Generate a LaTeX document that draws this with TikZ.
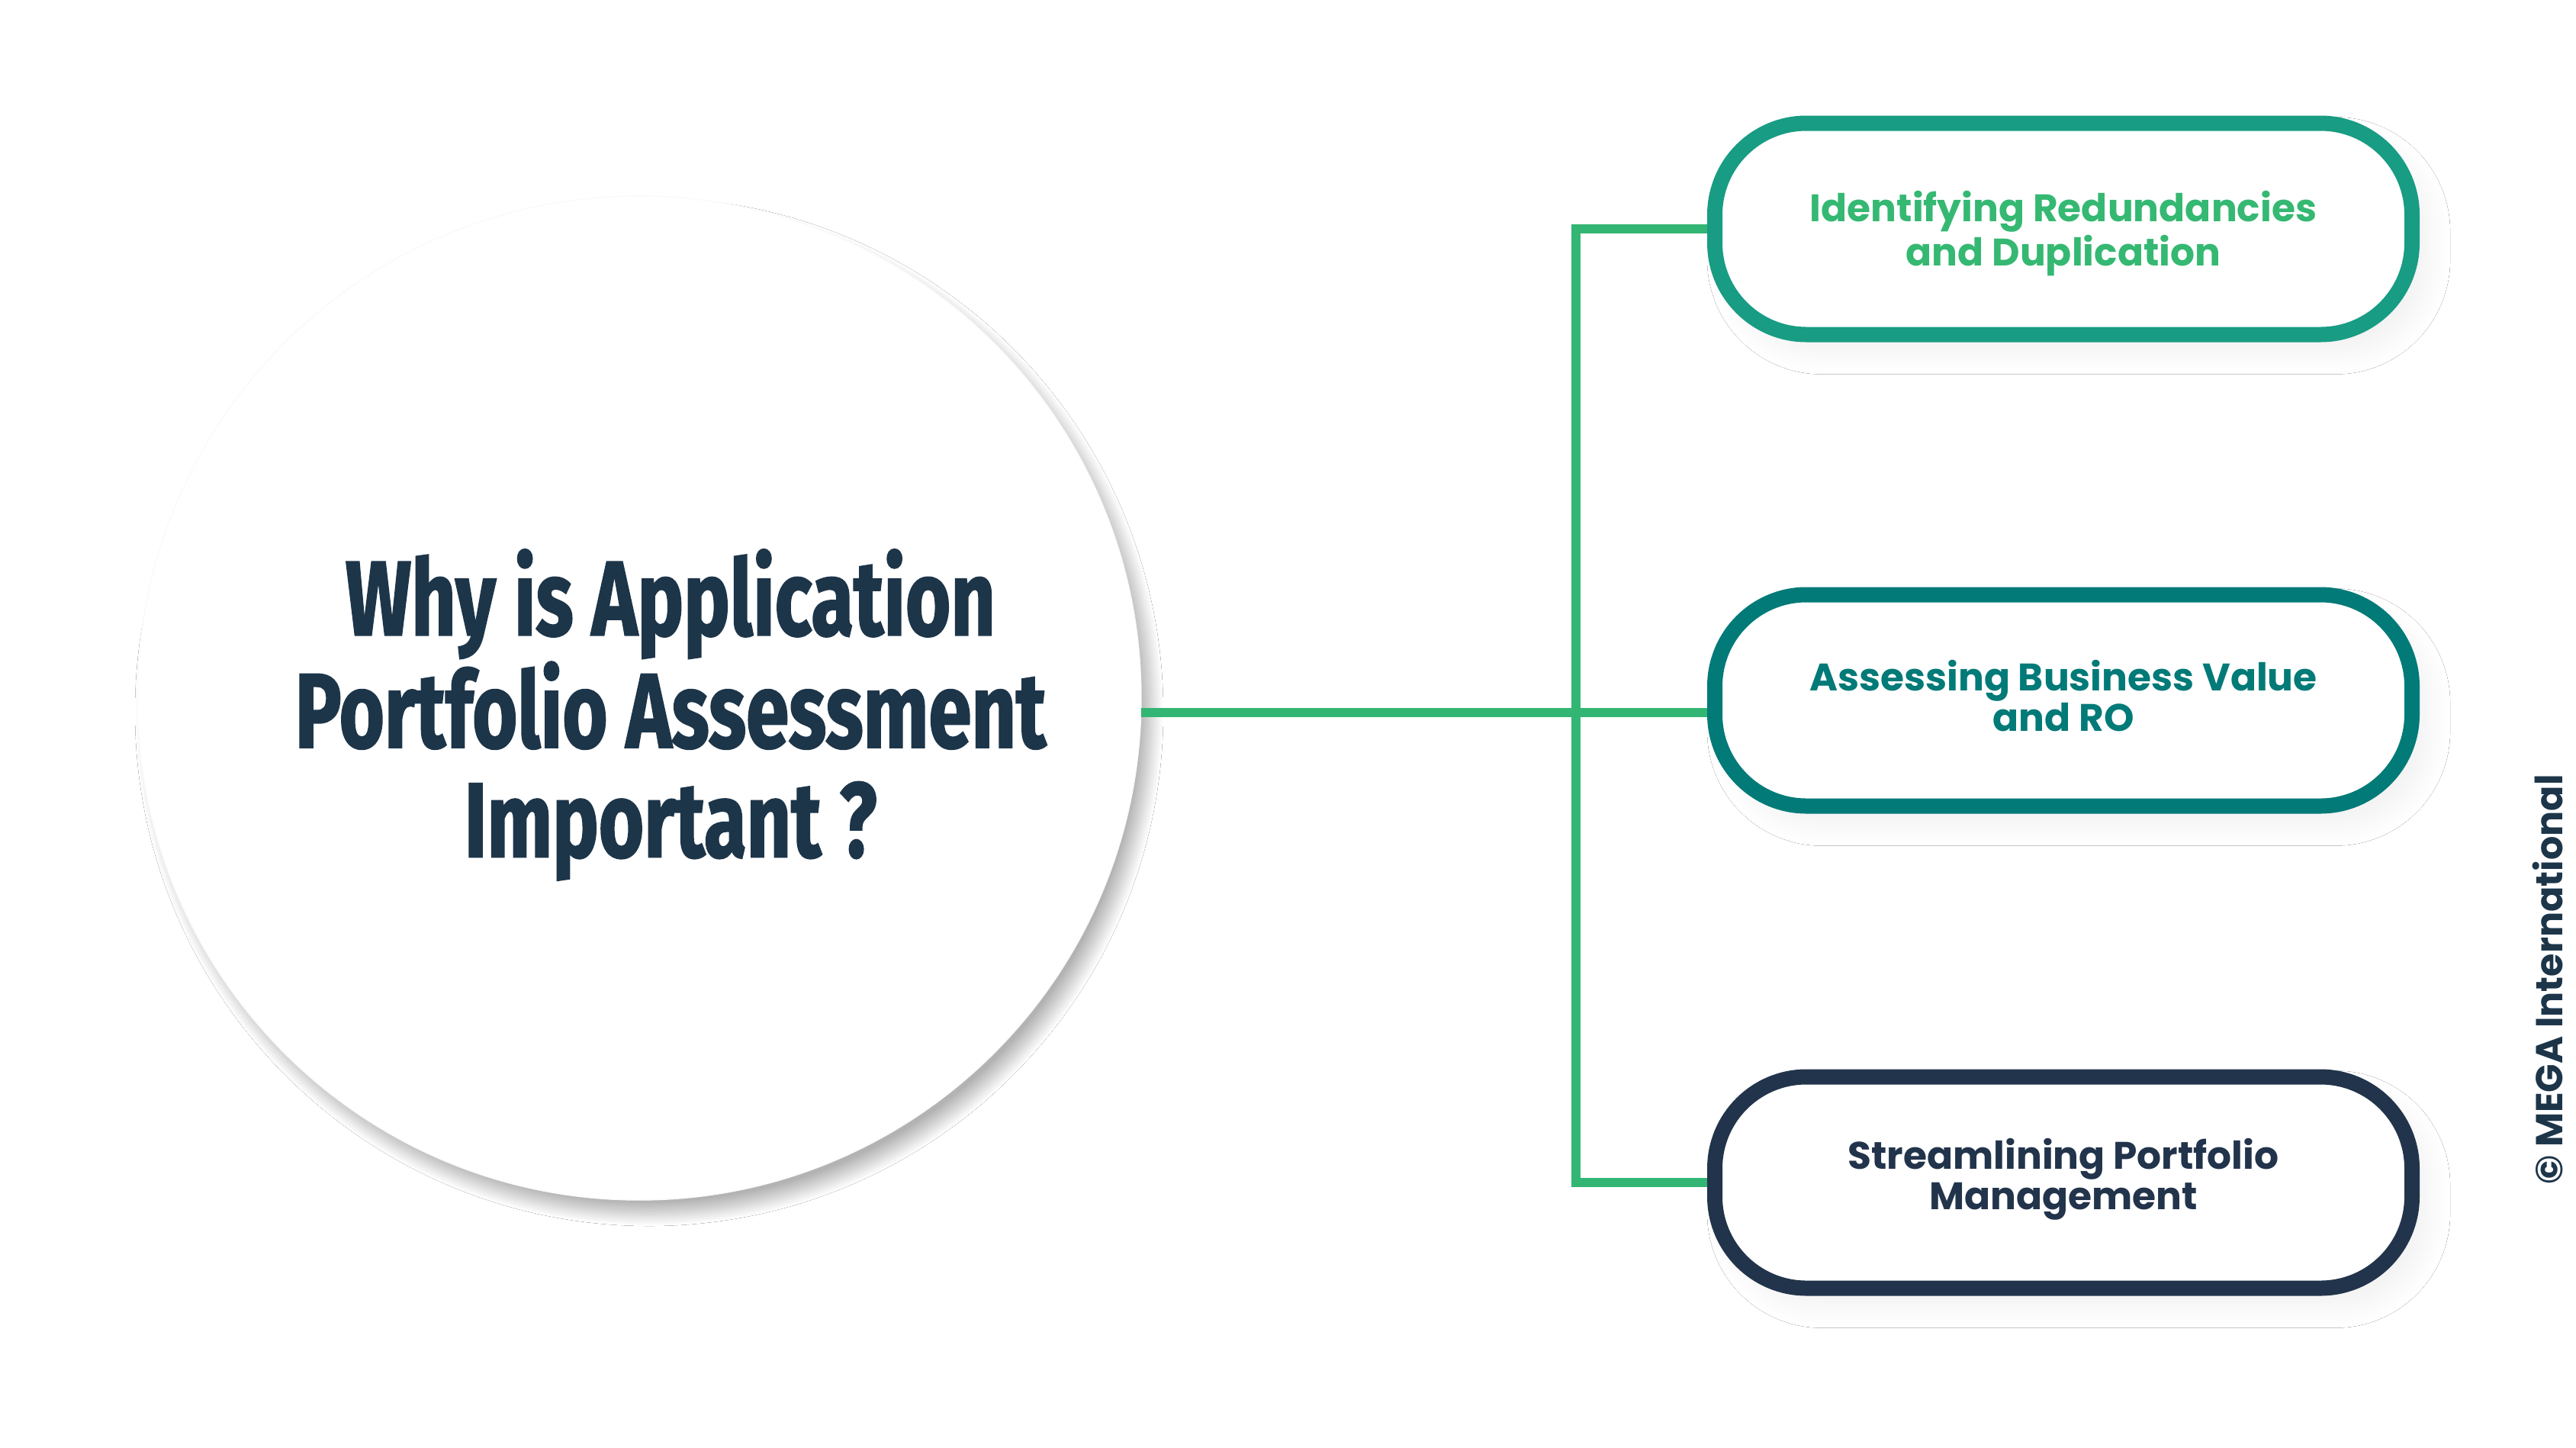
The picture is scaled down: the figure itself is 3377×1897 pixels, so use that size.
\documentclass[tikz,border=0pt]{standalone}
\usepackage{fontspec}
\setmainfont{Poppins}
\newfontfamily\titlefont[FakeStretch=0.73,FakeBold=1.3]{Fira Sans}
\newfontfamily\boxfont{Poppins}
\usetikzlibrary{shadows.blur}
\definecolor{navy}{RGB}{29,53,73}
\definecolor{lgreen}{RGB}{51,182,116}
\definecolor{teala}{RGB}{24,156,132}
\definecolor{textgreen}{RGB}{53,184,114}
\definecolor{tealb}{RGB}{1,122,120}
\definecolor{navyb}{RGB}{34,52,75}
\begin{document}
\begin{tikzpicture}[x=0.1mm,y=-0.1mm,
  pill/.style={draw, line width=2mm, fill=white, rounded corners=12mm,
    minimum width=91.4mm, minimum height=27.7mm, inner sep=0pt,
    blur shadow={shadow xshift=2mm, shadow yshift=-2.2mm, shadow blur radius=3mm,
      shadow blur steps=30, shadow opacity=6}},
  boxlabel/.style={align=center, inner sep=0pt,
    font=\boxfont\bfseries\fontsize{14.3}{15.1}\selectfont},
  conn/.style={draw=lgreen, line width=1.15mm, line join=miter},
  bigcircle/.style={circle, minimum size=131.6mm, inner sep=0pt, outer sep=0pt, fill=white, draw=black!2,
    blur shadow={shadow xshift=1.3mm, shadow yshift=-1.8mm, shadow blur radius=1.6mm,
      shadow blur steps=30, shadow opacity=30}},
  titletext/.style={font=\titlefont\bfseries\fontsize{39.6}{40.8}\selectfont, text=navy, align=center},
  copytext/.style={font=\boxfont\bfseries\fontsize{14}{16}\selectfont, text=navy, rotate=90}
]
\useasboundingbox[fill=white] (0,0) rectangle (3377,1897);

\node[bigcircle] (circ) at (838,915) {};
\node[titletext] (title) at (879,937) {Why is Application\\Portfolio Assessment\\Important ?};

\node[pill, draw=teala,
  label={[boxlabel, text=textgreen, yshift=-0.6mm]center:{Identifying Redundancies\\and Duplication}}]
  (box1) at (2705,300) {};
\node[pill, draw=tealb,
  label={[boxlabel, text=tealb, yshift=0.6mm]center:{Assessing Business Value\\and RO}}]
  (box2) at (2705,918) {};
\node[pill, draw=navyb,
  label={[boxlabel, text=navyb, yshift=0.4mm]center:{Streamlining Portfolio\\Management}}]
  (box3) at (2705,1550) {};

\coordinate (hub) at (2066,934);
\draw[conn] (circ.east |- hub) -- (box2.west |- hub);
\draw[conn] (box1.west) -- (box1.west -| hub) -- (box3.west -| hub) -- (box3.west);

\node[copytext] (copy) at (3340,1284) {© MEGA International};
\end{tikzpicture}
\end{document}
